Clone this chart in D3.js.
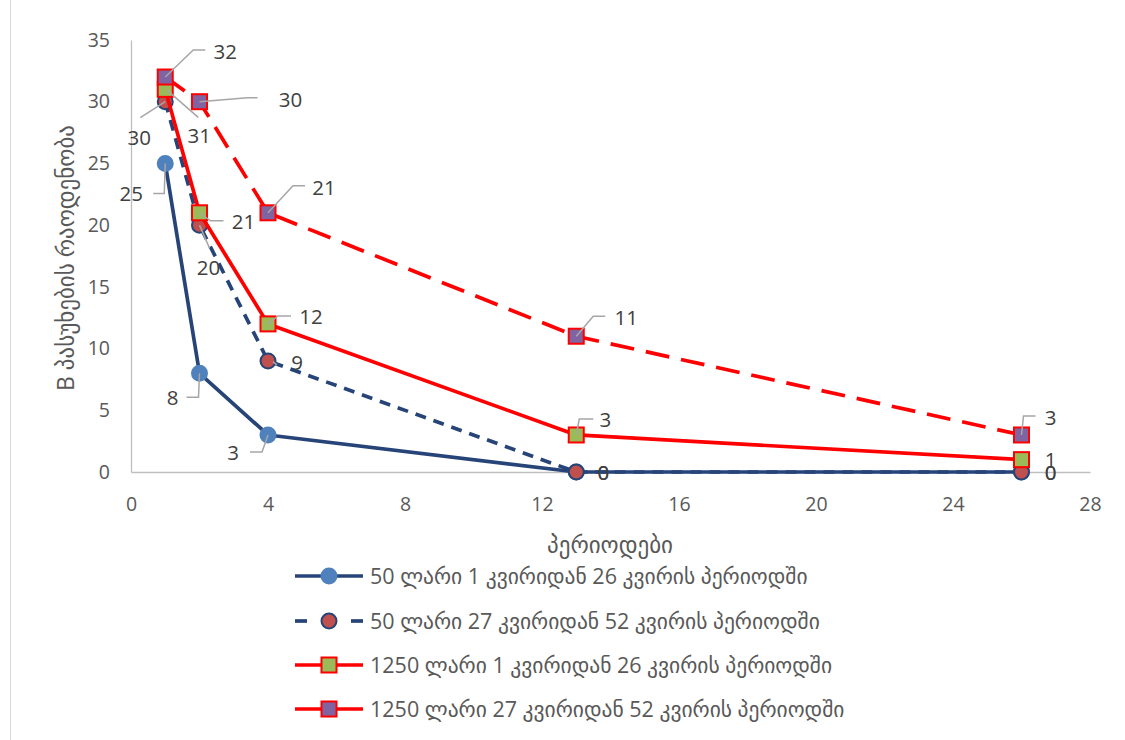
<!DOCTYPE html>
<html><head><meta charset="utf-8">
<script src="https://cdn.jsdelivr.net/npm/d3@7"></script>
<style>body{margin:0;background:#fff;} text{font-family:"Open Sans","DejaVu Sans",sans-serif;}</style>
</head><body>
<svg id="c" width="1125" height="740"></svg>
<script>
const periods = [1, 2, 4, 13, 26];
const seriesNames = [
  "50 ლარი 1 კვირიდან 26 კვირის პერიოდში",
  "50 ლარი 27 კვირიდან 52 კვირის პერიოდში",
  "1250 ლარი 1 კვირიდან 26 კვირის პერიოდში",
  "1250 ლარი 27 კვირიდან 52 კვირის პერიოდში"
];
const s1 = [25, 8, 3, 0, 0];
const s2 = [30, 20, 9, 0, 0];
const s3 = [31, 21, 12, 3, 1];
const s4 = [32, 30, 21, 11, 3];
const xTicks = [0, 4, 8, 12, 16, 20, 24, 28];
const yTicks = [0, 5, 10, 15, 20, 25, 30, 35];
const xTitle = "პერიოდები";
const yTitle = "B პასუხების რაოდენობა";

// styles (kept separate from data)
const styles = [
  {line:"#264478", dash:null, legendDash:false, shape:"circle", fill:"#4F81BD", stroke:"#4F81BD"},
  {line:"#264478", dash:"11,8", legendDash:true, shape:"circle", fill:"#C0504D", stroke:"#264478"},
  {line:"#FF0000", dash:null, legendDash:false, shape:"square", fill:"#9BBB59", stroke:"#FF0000"},
  {line:"#FF0000", dash:"24,12", legendDash:false, shape:"square", fill:"#8064A2", stroke:"#FF0000"}
];
// label layout: [text dx, dy, leader points]
const labelLayout = [
  [[-34,30,[[0,0],[-1,30],[-12,30]]],[-27,25,[[0,0],[-1,24],[-13,24]]],[-35,18,[[0,0],[-6,17],[-18,17]]],[27,1,null],[29,1,null]],
  [[-26,36,[[0,0],[-25,16]]],[9,43,[[0,0],[10,23]]],[29,2,[[5,1],[9,4]]],[27,1,null],[29,1,null]],
  [[34,46,[[2,1],[33,28]]],[44,9,[[0,0],[11,8],[24,8]]],[43,-7,[[0,0],[10,-8],[23,-8]]],[29,-15,[[0,0],[3,-16],[17,-16]]],[29,0,null]],
  [[60,-25,[[0,0],[28,-27],[40,-27]]],[91,-2,[[0,0],[48,-4],[58,-4]]],[56,-25,[[0,0],[25,-27],[37,-27]]],[50,-18,[[0,0],[17,-20],[29,-20]]],[29,-17,[[0,0],[2,-19],[14,-19]]]]
];

const svg = d3.select("#c");
const x = d3.scaleLinear().domain([0, 28]).range([131, 1090]);
const y = d3.scaleLinear().domain([0, 35]).range([472, 40]);

// left border of chart area
svg.append("line").attr("x1",10.5).attr("x2",10.5).attr("y1",0).attr("y2",740).attr("stroke","#D9D9D9").attr("stroke-width",1);

// axes
const xAxis = svg.append("g").attr("transform","translate(0,472)")
  .call(d3.axisBottom(x).tickValues(xTicks).tickSize(0).tickPadding(32));
const yAxis = svg.append("g").attr("transform","translate(131,0)")
  .call(d3.axisLeft(y).tickValues(yTicks).tickSize(0).tickPadding(21));
[xAxis, yAxis].forEach(a => {
  a.select(".domain").attr("stroke","#BFBFBF").attr("stroke-width",1.3);
  a.selectAll("text").attr("fill","#595959").style("font-size","19.5px").style("font-family","'Open Sans',sans-serif");
});
xAxis.selectAll("text").attr("dy","0.35em");

svg.append("text").attr("x",610).attr("y",545).attr("dy","0.35em").attr("text-anchor","middle")
  .attr("fill","#595959").style("font-size","23px").text(xTitle);
svg.append("text").attr("transform","translate(66,258) rotate(-90)").attr("dy","0.35em").attr("text-anchor","middle")
  .attr("fill","#595959").style("font-size","23px").text(yTitle);

const all = [s1, s2, s3, s4];
const line = d3.line().x(d => x(d[0])).y(d => y(d[1]));

function marker(g, st, cx, cy) {
  if (st.shape === "circle") {
    g.append("circle").attr("cx",cx).attr("cy",cy).attr("r",7.5)
      .attr("fill",st.fill).attr("stroke",st.stroke).attr("stroke-width",2);
  } else {
    g.append("rect").attr("x",cx-7.5).attr("y",cy-7.5).attr("width",15).attr("height",15)
      .attr("fill",st.fill).attr("stroke",st.stroke).attr("stroke-width",2);
  }
}

all.forEach((vals, i) => {
  const st = styles[i];
  const pts = periods.map((p, j) => [p, vals[j]]);
  const g = svg.append("g");
  g.append("path").attr("d", line(pts)).attr("fill","none")
    .attr("stroke", st.line).attr("stroke-width",3.7)
    .attr("stroke-dasharray", st.dash).attr("stroke-linejoin","round");
  pts.forEach(p => marker(g, st, x(p[0]), y(p[1])));
});

// labels
const lg = svg.append("g");
all.forEach((vals, i) => {
  periods.forEach((p, j) => {
    const cx = x(p), cy = y(vals[j]);
    const [dx, dy, pts] = labelLayout[i][j];
    if (pts) {
      lg.append("polyline").attr("points", pts.map(q => [cx+q[0], cy+q[1]].join(",")).join(" "))
        .attr("fill","none").attr("stroke","#A6A6A6").attr("stroke-width",1.5);
    }
    lg.append("text").attr("x", cx+dx).attr("y", cy+dy).attr("dy","0.35em")
      .attr("text-anchor","middle").attr("fill","#404040").style("font-size","20.5px")
      .style("font-family","'Open Sans',sans-serif")
      .text(vals[j]);
  });
});

// legend
const legY = [576, 621, 665, 709];
seriesNames.forEach((name, i) => {
  const st = styles[i];
  const g = svg.append("g");
  if (st.legendDash) {
    g.append("line").attr("x1",295).attr("x2",307).attr("y1",legY[i]).attr("y2",legY[i]).attr("stroke",st.line).attr("stroke-width",3.7);
    g.append("line").attr("x1",351).attr("x2",363).attr("y1",legY[i]).attr("y2",legY[i]).attr("stroke",st.line).attr("stroke-width",3.7);
  } else {
    g.append("line").attr("x1",295).attr("x2",363).attr("y1",legY[i]).attr("y2",legY[i]).attr("stroke",st.line).attr("stroke-width",3.7);
  }
  marker(g, st, 329, legY[i]);
  g.append("text").attr("x",370).attr("y",legY[i]).attr("dy","0.35em")
    .attr("fill","#595959").style("font-size","21.5px").text(name);
});
</script>
</body></html>
